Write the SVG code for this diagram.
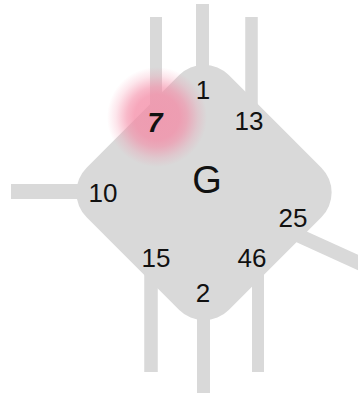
<svg xmlns="http://www.w3.org/2000/svg" width="358" height="393" viewBox="0 0 358 393">
  <defs>
    <radialGradient id="glow" cx="157" cy="117" r="50" gradientUnits="userSpaceOnUse">
      <stop offset="0" stop-color="#f48aa5" stop-opacity="0.78"/>
      <stop offset="0.45" stop-color="#f48aa5" stop-opacity="0.75"/>
      <stop offset="0.6" stop-color="#f48aa5" stop-opacity="0.6"/>
      <stop offset="0.82" stop-color="#f48aa5" stop-opacity="0.22"/>
      <stop offset="1" stop-color="#f48aa5" stop-opacity="0"/>
    </radialGradient>
    <style>
      .edge { stroke: #d9d9d9; fill: none; stroke-linecap: butt; }
      .lbl { font-family: "Liberation Sans", Arial, sans-serif; font-size: 26px; fill: #111; text-anchor: middle; }
      .title { font-size: 38px; }
      .sel { font-weight: bold; font-style: italic; font-size: 27px; }
    </style>
  </defs>
  <rect width="358" height="393" fill="#ffffff"/>
  <g id="connectors">
    <line class="edge" x1="156" y1="17" x2="156" y2="150" stroke-width="12"/>
    <line class="edge" x1="202.5" y1="4" x2="202.5" y2="150" stroke-width="13"/>
    <line class="edge" x1="251.5" y1="17" x2="251.5" y2="150" stroke-width="12.5"/>
    <line class="edge" x1="11" y1="191.5" x2="150" y2="191.5" stroke-width="15"/>
    <line class="edge" x1="204" y1="192.5" x2="370" y2="268" stroke-width="14"/>
    <line class="edge" x1="151" y1="230" x2="151" y2="372" stroke-width="13.5"/>
    <line class="edge" x1="203.5" y1="230" x2="203.5" y2="393" stroke-width="13"/>
    <line class="edge" x1="258" y1="230" x2="258" y2="372" stroke-width="12"/>
  </g>
  <g id="node-G">
    <rect x="103.5" y="92" width="201" height="201" rx="35" fill="#d9d9d9" transform="rotate(45 204 192.5)"/>
    <circle cx="157" cy="117" r="50" fill="url(#glow)"/>
    <text class="lbl title" x="207" y="193">G</text>
    <text class="lbl" x="203" y="99">1</text>
    <text class="lbl sel" x="155" y="131.5">7</text>
    <text class="lbl" x="249" y="130">13</text>
    <text class="lbl" x="103" y="202">10</text>
    <text class="lbl" x="293" y="227">25</text>
    <text class="lbl" x="156" y="266.5">15</text>
    <text class="lbl" x="252" y="266.5">46</text>
    <text class="lbl" x="203" y="301.5">2</text>
  </g>
</svg>
